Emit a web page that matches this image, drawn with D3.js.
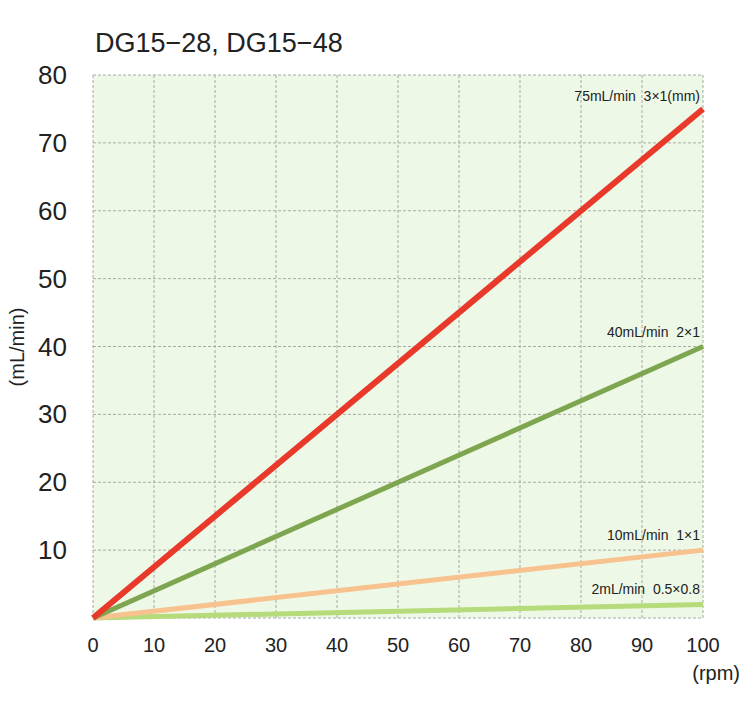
<!DOCTYPE html><html><head><meta charset="utf-8"><script src="https://cdn.jsdelivr.net/npm/d3@7"></script>
<style>body{margin:0;background:#fff}</style></head><body><svg id="c" width="750" height="714"></svg>
<script>
const xTicks=[0,10,20,30,40,50,60,70,80,90,100];
const yTicks=[10,20,30,40,50,60,70,80];
const seriesNames=["75mL/min  3×1(mm)","40mL/min  2×1","10mL/min  1×1","2mL/min  0.5×0.8"];
const seriesMax=[75,40,10,2];
const seriesColors=["#e8392b","#7ea650","#f7c28e","#b5db7a"];
const svg=d3.select("#c");
const L=93,R=703,T=75,B=618;
const x=d3.scaleLinear().domain([0,100]).range([L,R]);
const y=d3.scaleLinear().domain([0,80]).range([B,T]);
svg.append("rect").attr("x",L).attr("y",T).attr("width",R-L).attr("height",B-T).attr("fill","#eef8e6");
const g=svg.append("g").attr("stroke","#a8aaa8").attr("stroke-dasharray","3,2").attr("stroke-width",1);
xTicks.forEach(t=>g.append("line").attr("x1",x(t)).attr("x2",x(t)).attr("y1",T).attr("y2",B));
[0,...yTicks].forEach(t=>g.append("line").attr("x1",L).attr("x2",R).attr("y1",y(t)).attr("y2",y(t)));
const f="Liberation Sans, Arial, sans-serif";
svg.append("text").attr("x",95).attr("y",52).attr("font-family",f).attr("font-size",27).attr("fill","#222").text("DG15−28, DG15−48");
xTicks.forEach(t=>svg.append("text").attr("x",x(t)).attr("y",652).attr("text-anchor","middle").attr("font-family",f).attr("font-size",20).attr("fill","#222").text(t));
[0,...yTicks].filter(t=>t>0).forEach(t=>svg.append("text").attr("x",67).attr("y",y(t)+9).attr("text-anchor","end").attr("font-family",f).attr("font-size",26).attr("fill","#222").text(t));
svg.append("text").attr("x",740).attr("y",680).attr("text-anchor","end").attr("font-family",f).attr("font-size",20).attr("fill","#222").text("(rpm)");
svg.append("text").attr("transform","translate(24,347) rotate(-90)").attr("text-anchor","middle").attr("font-family",f).attr("font-size",20).attr("fill","#222").text("(mL/min)");
const line=d3.line().x(d=>x(d[0])).y(d=>y(d[1]));
[3,2,1,0].forEach(i=>{
 svg.append("path").attr("d",line([[0,0],[100,seriesMax[i]]])).attr("stroke",seriesColors[i]).attr("stroke-width",i==0?6:i==1?5:5).attr("fill","none");
 svg.append("text").attr("x",x(100)-3).attr("y",y(seriesMax[i])-(i==0?8:10)).attr("text-anchor","end").attr("font-family",f).attr("font-size",14).attr("fill","#222").attr("xml:space","preserve").style("white-space","pre").text(seriesNames[i]);
});
</script></body></html>
